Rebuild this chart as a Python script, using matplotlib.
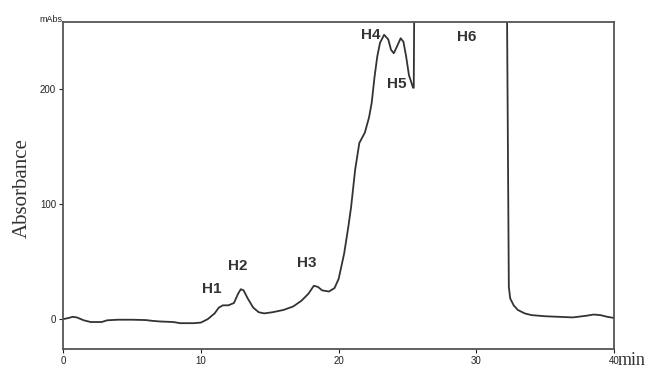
import matplotlib
matplotlib.use('Agg')
import matplotlib.pyplot as plt

# chromatogram trace (min, mAbs); 300 = off scale
time = [0.0, 0.4, 0.7, 1.0, 1.5, 2.0, 2.8, 3.2, 4.0, 5.0, 6.0, 6.5, 7.0, 8.0,
        8.5, 9.5, 10.0, 10.5, 11.0, 11.3, 11.6, 12.0, 12.4, 12.7, 12.9, 13.1,
        13.4, 13.8, 14.2, 14.6, 15.2, 16.0, 16.7, 17.3, 17.8, 18.2, 18.5, 18.8,
        19.3, 19.7, 20.0, 20.4, 20.7, 20.9, 21.2, 21.5, 21.9, 22.2, 22.4, 22.6,
        22.8, 23.0, 23.3, 23.6, 23.8, 24.0, 24.2, 24.5, 24.7, 24.9, 25.1, 25.4,
        25.45, 25.5, 32.2, 32.35, 32.45, 32.7, 33.0, 33.5, 34.0, 35.0, 36.0, 37.0,
        38.0, 38.5, 39.0, 39.5, 40.0]
absorb = [0, 1, 2, 1.5, -1, -2.5, -2.5, -1, -0.5, -0.5, -0.8, -1.5, -2, -2.5,
          -3.5, -3.5, -3, 0, 5, 10, 12, 12, 14, 22, 26, 25,
          18, 10, 6, 5, 6, 8, 11, 16, 22, 29, 28, 25,
          24, 27, 35, 57, 80, 97, 130, 153, 162, 175, 188, 210,
          228, 240, 247, 243, 234, 231, 236, 244, 241, 228, 212, 201,
          201, 300, 300, 28, 18, 12, 8, 5, 3.5, 2.5, 2, 1.5,
          3, 4, 3.5, 2, 1]

peak_names = ['H1', 'H2', 'H3', 'H4', 'H5', 'H6']
peak_x = [10.8, 12.7, 17.7, 22.3, 24.2, 29.3]
peak_y = [26, 46, 49, 247, 204, 245]

xticks = [0, 10, 20, 30, 40]
yticks = [0, 100, 200]

fig = plt.figure(figsize=(6.5, 3.69), dpi=100)
ax = fig.add_axes([0.097, 0.054, 0.848, 0.886])

ax.plot(time, absorb, color='#333333', lw=1.3)
ax.set_xlim(0, 40)
ax.set_ylim(-26, 258)

for name, x, y in zip(peak_names, peak_x, peak_y):
    ax.text(x, y, name, fontsize=11, fontweight='bold', color='#333333',
            family='Liberation Sans', ha='center', va='center')

ax.set_xticks(xticks)
ax.set_yticks(yticks)
ax.tick_params(labelsize=7, length=3, width=0.8, colors='#222222', pad=2)
for lab in ax.get_xticklabels() + ax.get_yticklabels():
    lab.set_family('Liberation Sans')
for s in ax.spines.values():
    s.set_color('#555555')
    s.set_linewidth(1.3)

fig.text(0.0954, 0.948, 'mAbs', fontsize=6.5, family='Liberation Sans',
         ha='right', va='center', color='#222222')
fig.text(0.951, 0.022, 'min', fontsize=13, family='Liberation Serif',
         ha='left', va='center', color='#333333')
fig.text(0.034, 0.49, 'Absorbance', fontsize=15, family='Liberation Serif',
         rotation=90, ha='center', va='center', color='#333333')

fig.savefig('out.png', dpi=100)
